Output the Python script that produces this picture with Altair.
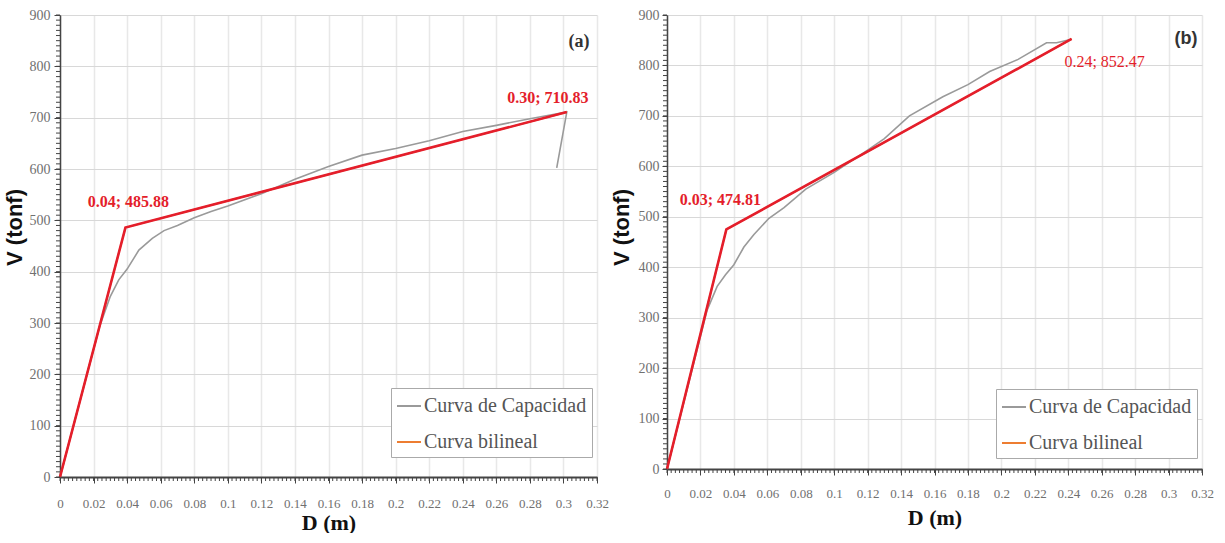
import altair as alt
import pandas as pd

# ---------------- data ----------------
series = ["Curva de Capacidad", "Curva bilineal"]

# panel (a)
cap_a_d = [0.0, 0.0235, 0.03, 0.035, 0.04, 0.047, 0.055, 0.062, 0.07, 0.08, 0.09, 0.10,
           0.12, 0.14, 0.16, 0.18, 0.20, 0.22, 0.24, 0.26, 0.28, 0.302, 0.296]
cap_a_v = [0, 292, 352, 384, 405, 442, 465, 480, 490, 505, 517, 528,
           552, 580, 605, 627, 640, 655, 673, 685, 698, 711, 602]
bil_a_d = [0.0, 0.039, 0.302]
bil_a_v = [0.0, 485.88, 710.83]
lab_a = ["0.04; 485.88", "0.30; 710.83"]

# panel (b)
cap_b_d = [0.0, 0.024, 0.03, 0.035, 0.04, 0.046, 0.052, 0.061, 0.07, 0.083, 0.10, 0.12,
           0.13, 0.145, 0.165, 0.18, 0.193, 0.21, 0.227, 0.233, 0.242]
cap_b_v = [0, 315, 362, 385, 405, 440, 465, 497, 518, 555, 588, 632,
           655, 700, 738, 762, 788, 812, 845, 845, 852]
bil_b_d = [0.0, 0.0355, 0.242]
bil_b_v = [0.0, 474.81, 852.47]
lab_b = ["0.03; 474.81", "0.24; 852.47"]

x_ticks = [0, 0.02, 0.04, 0.06, 0.08, 0.1, 0.12, 0.14, 0.16, 0.18, 0.2, 0.22, 0.24,
           0.26, 0.28, 0.3, 0.32]
y_ticks = [0, 100, 200, 300, 400, 500, 600, 700, 800, 900]
x_minor = [round(0.0025 * k, 4) for k in range(129)]
y_minor = [10 * k for k in range(91)]

SERIF = "Liberation Serif"
SANS = "Liberation Sans"
RED = "#e41e2b"
GRAY = "#9a9a9a"
ORANGE = "#ed7d31"


def panel(cap_d, cap_v, bil_d, bil_v, labels, tag, tag_font, W, H, cfg):
    df = pd.DataFrame({
        "D": cap_d + bil_d,
        "V": cap_v + bil_v,
        "serie": [series[0]] * len(cap_d) + [series[1]] * len(bil_d),
        "i": list(range(len(cap_d))) + list(range(len(bil_d))),
    })
    dfb = pd.DataFrame({"D": bil_d, "V": bil_v, "i": list(range(len(bil_d)))})
    xs = alt.Scale(domain=[0, 0.32], nice=False, zero=False)
    ys = alt.Scale(domain=[0, 900], nice=False, zero=False)
    xax = alt.Axis(values=x_ticks, format="~g", title="D (m)", grid=True,
                   gridColor="#e8e8e8", gridWidth=1.5, tickSize=6, tickColor="#444",
                   labelPadding=cfg["xlp"], labelFont=SERIF, labelFontSize=13,
                   labelColor="#707070", labelFlush=False, labelOverlap=False,
                   titleFont=SERIF, titleFontSize=22, titleFontWeight="bold",
                   titleColor="#111", titlePadding=cfg["xtp"],
                   domainColor="#444", domainWidth=2)
    yax = alt.Axis(values=y_ticks, title="V (tonf)", grid=True, gridColor="#d8d8d8",
                   gridWidth=1, tickSize=cfg["yts"], tickColor="#444",
                   labelPadding=cfg["ylp"], labelFont=SERIF, labelFontSize=14,
                   labelColor="#707070", labelFlush=False,
                   titleFont=SANS, titleFontSize=22, titleFontWeight="bold",
                   titleColor="#111", titlePadding=cfg["ytp"], titleY=212,
                   domainColor="#444", domainWidth=1.5)
    legend = alt.Legend(title=None, orient="none", legendX=cfg["lx"], legendY=cfg["ly"],
                        direction="vertical", symbolType="stroke", symbolSize=576,
                        symbolStrokeWidth=2, labelFont=SERIF, labelFontSize=20,
                        labelColor="#555", labelOffset=2, padding=5, rowPadding=13,
                        strokeColor="#aaaaaa", fillColor="white", labelLimit=400)

    X = alt.X("D:Q", scale=xs, axis=xax)
    Y = alt.Y("V:Q", scale=ys, axis=yax)

    lines = alt.Chart(df).mark_line(strokeWidth=1.6).encode(
        x=X, y=Y,
        color=alt.Color("serie:N", scale=alt.Scale(domain=series, range=[GRAY, ORANGE]),
                        legend=legend),
        order=alt.Order("i:Q"),
    )
    red = alt.Chart(dfb).mark_line(color=RED, strokeWidth=2.6).encode(
        x=X, y=Y, order=alt.Order("i:Q"),
    )
    xm = alt.Chart(pd.DataFrame({"D": x_minor})).mark_rule(color="#444", strokeWidth=1).encode(
        x=X, y=alt.value(H), y2=alt.value(H + 4),
    )
    ym = alt.Chart(pd.DataFrame({"V": y_minor})).mark_rule(color="#444", strokeWidth=1).encode(
        y=Y, x=alt.value(-4), x2=alt.value(0),
    )
    texts = []
    for k, (idx, dx, dy, weight) in enumerate(cfg["labels"]):
        t = alt.Chart(pd.DataFrame({"D": [bil_d[idx]], "V": [bil_v[idx]], "t": [labels[k]]})).mark_text(
            dx=dx, dy=dy, font=SERIF, fontSize=16, fontWeight=weight, color=RED,
            align="center", baseline="middle",
        ).encode(x=X, y=Y, text="t:N")
        texts.append(t)
    tg = alt.Chart(pd.DataFrame({"t": [tag]})).mark_text(
        font=tag_font, fontSize=18, fontWeight="bold", color="#333",
        align="center", baseline="middle",
    ).encode(x=alt.value(cfg["tagx"]), y=alt.value(cfg["tagy"]), text="t:N")

    return alt.layer(lines, red, xm, ym, *texts, tg).properties(width=W, height=H)


pa = panel(cap_a_d, cap_a_v, bil_a_d, bil_a_v, lab_a, "(a)", SERIF, 537, 462,
           dict(xlp=14, xtp=2, yts=6, ylp=4, ytp=3, lx=331, ly=373,
                labels=[(1, 3, -26, "bold"), (2, -19, -14, "bold")],
                tagx=519, tagy=27))
pb = panel(cap_b_d, cap_b_v, bil_b_d, bil_b_v, lab_b, "(b)", SANS, 535, 454,
           dict(xlp=12, xtp=7, yts=5, ylp=3, ytp=5, lx=329, ly=374,
                labels=[(1, -6, -29, "bold"), (2, 33, 23, "normal")],
                tagx=519, tagy=24))

chart = alt.hconcat(pa, pb, spacing=1).resolve_scale(
    color="independent", x="independent", y="independent"
).resolve_legend(color="independent").properties(
    padding={"left": 3, "top": 8, "right": 0, "bottom": 0}
).configure(font=SERIF).configure_view(stroke=None).configure_axis(
    labelFont=SERIF
).configure_axisX(titleFont=SERIF).configure_axisY(titleFont=SANS).configure_legend(
    labelFont=SERIF
)

chart.save("out.html", embed_options={"renderer": "svg", "actions": False})
